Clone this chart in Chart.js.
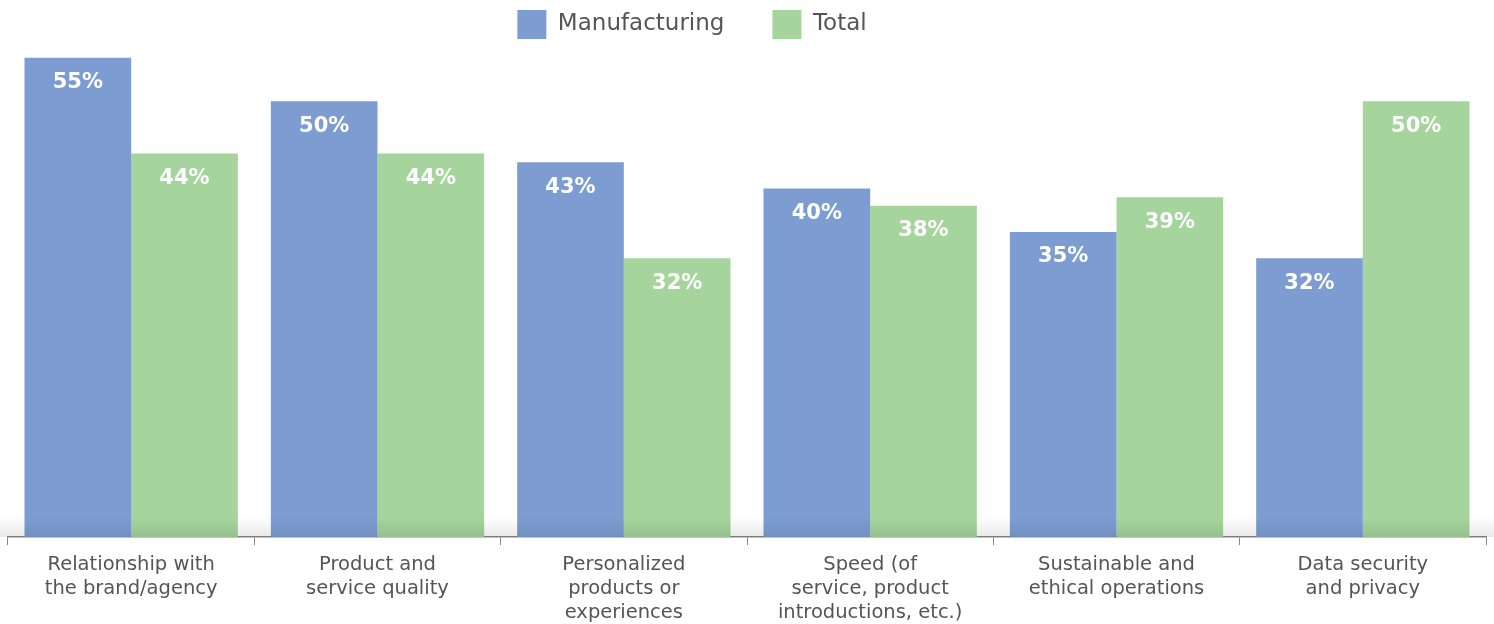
<!DOCTYPE html>
<html>
<head>
<meta charset="utf-8">
<script src="https://cdn.jsdelivr.net/npm/chart.js@4/dist/chart.umd.min.js"></script>
<style>
  html, body { margin: 0; padding: 0; background: #fff; }
  #wrap { width: 1494px; height: 624px; }
</style>
</head>
<body>
<div id="wrap"><canvas id="barChart"></canvas></div>
<script>
var categories = [
  ["Relationship with", "the brand/agency"],
  ["Product and", "service quality"],
  ["Personalized", "products or", "experiences"],
  ["Speed (of", "service, product", "introductions, etc.)"],
  ["Sustainable and", "ethical operations"],
  ["Data security", "and privacy"]
];
var manufacturing = [55, 50, 43, 40, 35, 32];
var total = [44, 44, 32, 38, 39, 50];

var fontName = "'DejaVu Sans', sans-serif";

// white % labels inside the top of each bar
var valueLabels = {
  id: 'valueLabels',
  afterDatasetsDraw: function(chart) {
    var ctx = chart.ctx;
    ctx.save();
    ctx.fillStyle = '#ffffff';
    ctx.font = "bold 21px " + fontName;
    ctx.textAlign = 'center';
    ctx.textBaseline = 'middle';
    chart.data.datasets.forEach(function(ds, i) {
      chart.getDatasetMeta(i).data.forEach(function(bar, j) {
        ctx.fillText(ds.data[j] + '%', bar.x, bar.y + 25);
      });
    });
    ctx.restore();
  }
};

// soft grey shade along the base line
var baseShade = {
  id: 'baseShade',
  afterDatasetsDraw: function(chart) {
    var ctx = chart.ctx;
    var a = chart.chartArea;
    var g = ctx.createLinearGradient(0, a.bottom - 20, 0, a.bottom);
    g.addColorStop(0, 'rgba(0,0,0,0)');
    g.addColorStop(1, 'rgba(0,0,0,0.09)');
    ctx.save();
    ctx.fillStyle = g;
    ctx.fillRect(0, a.bottom - 20, chart.width, 20);
    ctx.restore();
  }
};

// legend sits a bit left of centre in the original
var legendShift = {
  id: 'legendShift',
  afterLayout: function(chart) {
    chart.legend.right -= 110;
  }
};

var ctx = document.getElementById('barChart').getContext('2d');
var myChart = new Chart(ctx, {
  type: 'bar',
  data: {
    labels: categories,
    datasets: [{
      label: 'Manufacturing',
      data: manufacturing,
      backgroundColor: '#7d9dd2',
      barPercentage: 1,
      categoryPercentage: 0.866
    }, {
      label: 'Total',
      data: total,
      backgroundColor: '#a5d49d',
      barPercentage: 1,
      categoryPercentage: 0.866
    }]
  },
  options: {
    responsive: true,
    maintainAspectRatio: false,
    animation: false,
    layout: { padding: { left: 8, right: 8, top: -38, bottom: 0 } },
    plugins: {
      legend: {
        position: 'top',
        labels: {
          boxWidth: 29,
          boxHeight: 29,
          padding: 48,
          color: '#555',
          font: { family: fontName, size: 23 }
        }
      },
      tooltip: { enabled: false }
    },
    scales: {
      x: {
        offset: true,
        afterFit: function(scale) {
          scale.height = 87;
        },
        grid: {
          offset: true,
          drawOnChartArea: false,
          drawTicks: true,
          tickLength: 8,
          color: '#888'
        },
        border: { display: true, color: '#888', width: 1.5 },
        ticks: {
          color: '#555',
          font: { family: fontName, size: 19.5, lineHeight: 1.23 },
          padding: 8,
          maxRotation: 0,
          autoSkip: false
        }
      },
      y: {
        display: false,
        min: 0,
        max: 56
      }
    }
  },
  plugins: [valueLabels, baseShade, legendShift]
});
</script>
</body>
</html>
